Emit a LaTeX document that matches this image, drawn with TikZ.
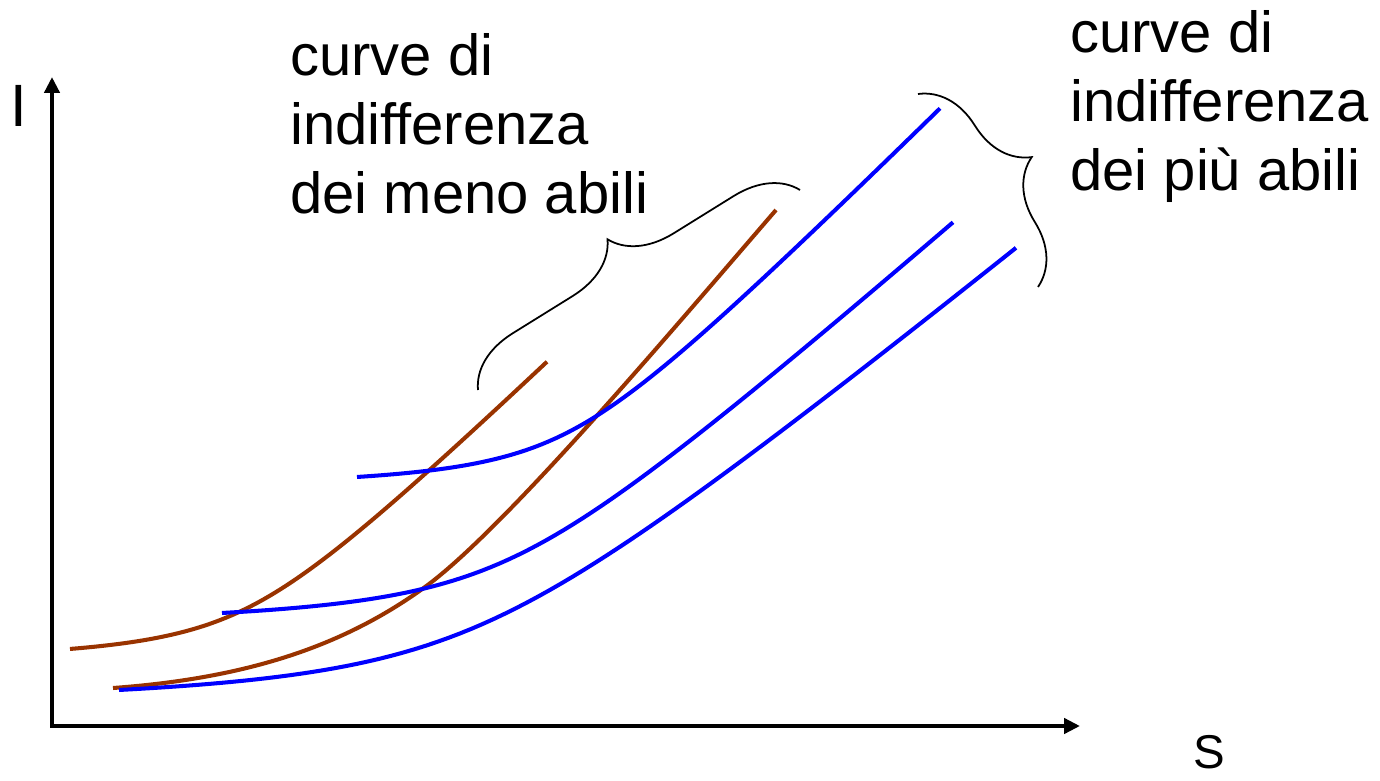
\documentclass[tikz,border=0pt]{standalone}
\usepackage{fontspec}
\setmainfont[Ligatures=NoCommon]{Liberation Sans}
\usetikzlibrary{arrows.meta, decorations.pathreplacing}
\definecolor{lowbrown}{RGB}{153,51,0}
\definecolor{highblue}{RGB}{0,0,255}
\tikzset{
  axis/.style    = {{Triangle[width=8.5pt,length=9pt]}-{Triangle[width=8.5pt,length=9pt]},
                    line width=2.3pt},
  less/.style    = {line width=2.3pt, draw=lowbrown},
  more/.style    = {line width=2.3pt, draw=highblue, samples=80},
  bracket/.style = {decorate, decoration={brace, amplitude=#1}, line width=1pt},
  caption/.style = {anchor=base west, inner sep=0pt, align=left,
                    font=\fontsize{33}{39}\selectfont},
}

\begin{document}
\begin{tikzpicture}[x=0.02cm, y=-0.02cm]
  \useasboundingbox (0,0) rectangle (1380,781);

  % axes
  \coordinate (origin) at (52,726);
  \coordinate (ytip)   at (52,77);
  \coordinate (xtip)   at (1080,726);
  \draw[axis] (ytip) -- (origin) -- (xtip);
  \node[font=\fontsize{34}{40}\selectfont] (ilab) at (19,106) {I};
  \node[font=\fontsize{27}{32}\selectfont] (slab) at (1209,752) {S};

  % less able
  \draw[less, samples=80] plot[domain=70:547]
    (\x, {666.1 - 48.5*((\x-244)/100 + sqrt(((\x-244)/100)*((\x-244)/100) + 1.3549))});
  \draw[less] (113,688) .. controls (250,678) and (345,645) .. (425,587)
              .. controls (505,529) and (680,321) .. (776,210);

  % more able
  \draw[more] plot[domain=357:940]
    (\x, {492.3 - 50*((\x-565)/100 + sqrt(((\x-565)/100)*((\x-565)/100) + 1.3689))});
  \draw[more] plot[domain=222:953]
    (\x, {630.6 - 44*((\x-502)/100 + sqrt(((\x-502)/100)*((\x-502)/100) + 2.4025))});
  \draw[more] plot[domain=119:1016]
    (\x, {711.4 - 41*((\x-468)/100 + sqrt(((\x-468)/100)*((\x-468)/100) + 3.9204))});

  % labels
  \node[caption] (lesstext) at (290,213) {curve di\\indifferenza\\dei meno abili};
  \node[caption] (moretext) at (1070,190) {curve di\\indifferenza\\dei più abili};

  \coordinate (lessa) at (478,390);
  \coordinate (lessb) at (800,190);
  \coordinate (morea) at (918,94);
  \coordinate (moreb) at (1038,287);
  \draw[bracket=34pt] (lessa) -- (lessb);
  \draw[bracket=36pt] (morea) -- (moreb);
\end{tikzpicture}
\end{document}
